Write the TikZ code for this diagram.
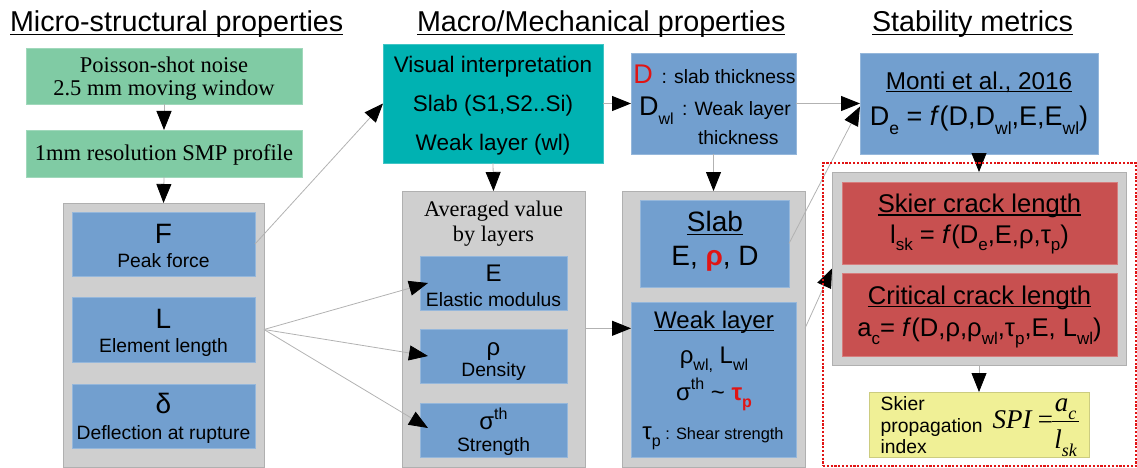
\documentclass[tikz,border=0pt]{standalone}
\usepackage{fontspec}
\setmainfont{Liberation Sans}
\newfontfamily\seriffam{Liberation Serif}
\usetikzlibrary{arrows.meta}

\definecolor{boxgreen}{RGB}{128,203,164}
\definecolor{boxteal}{RGB}{0,178,178}
\definecolor{boxblue}{RGB}{114,159,207}
\definecolor{boxgray}{RGB}{207,207,207}
\definecolor{boxred}{RGB}{200,80,80}
\definecolor{boxyellow}{RGB}{240,240,150}
\definecolor{hotred}{RGB}{225,20,20}
\definecolor{linkgray}{RGB}{178,178,178}

% font size helper, sub/superscripts and a flat underline
\newcommand\fsz[1]{\fontsize{#1}{#1}\selectfont}
\newcommand\subx[2]{\raisebox{-0.3em}{\fsz{#1}#2}}
\newcommand\supx[2]{\raisebox{0.42em}{\fsz{#1}#2}}
\newcommand\myul[1]{\leavevmode\setbox0\hbox{#1}\rlap{\rule[-0.12em]{\wd0}{0.05em}}\box0}

\tikzset{
  x=1pt, y=-1pt,
  panel/.style={anchor=north west, inner sep=0pt, outer sep=0pt, line width=0.6pt},
  greenbox/.style={panel, fill=boxgreen, draw=boxgreen!75!white},
  tealbox/.style={panel, fill=boxteal, draw=boxteal!75!white},
  bluebox/.style={panel, fill=boxblue, draw=boxblue!75!white},
  graybox/.style={panel, fill=boxgray, draw=boxgray!85!black},
  redbox/.style={panel, fill=boxred, draw=boxred!75!white},
  yellowbox/.style={panel, fill=boxyellow, draw=boxyellow!85!black},
  txt/.style={inner sep=0pt, outer sep=0pt, anchor=base, text=black},
  txtl/.style={txt, anchor=base west},
  title/.style={txtl, font=\fsz{28.7}},
  serifline/.style={txt, font={\seriffam\fsz{22.5}}},
  sym/.style={txt, font=\fsz{28}},
  lab/.style={txt, font=\fsz{19.3}},
  link/.style={draw=linkgray, line width=0.8pt,
    -{Triangle[length=19pt,width=15pt,color=black,fill=black]}},
  dotframe/.style={panel, draw=hotred, line width=1.2pt,
    dash pattern=on 2.2pt off 1.6pt},
}

\begin{document}
\begin{tikzpicture}
\useasboundingbox (0,0) rectangle (1137,468);

% column headings
\node[title] (t1) at (10,31.7) {\myul{Micro-structural properties}};
\node[title] (t2) at (417,31.7) {\myul{Macro/Mechanical properties}};
\node[title] (t3) at (872,31.7) {\myul{Stability metrics}};

% ---- micro-structural column
\node[greenbox, minimum width=276, minimum height=56] (g1) at (26,48) {};
\node[serifline] (g1a) at (164,72.7) {Poisson-shot noise};
\node[serifline] (g1b) at (164,96) {2.5 mm moving window};
\node[greenbox, minimum width=276, minimum height=47] (g2) at (26,130) {};
\node[serifline] (g2a) at (164,160.7) {1mm resolution SMP profile};

\node[graybox, minimum width=201, minimum height=264] (gl) at (63,203) {};
\node[bluebox, minimum width=183, minimum height=64] (fb) at (72,212) {};
\node[sym] (fs) at (163.5,243.3) {F};
\node[lab] (fl) at (163.5,267.3) {Peak force};
\node[bluebox, minimum width=183, minimum height=65] (lb) at (72,297) {};
\node[sym] (ls) at (163.5,328.3) {L};
\node[lab] (ll) at (163.5,352.7) {Element length};
\node[bluebox, minimum width=183, minimum height=64] (db) at (72,384) {};
\node[sym] (ds) at (163.5,413) {δ};
\node[lab] (dl) at (163.5,439.3) {Deflection at rupture};

% ---- macro / mechanical column
\node[tealbox, minimum width=220, minimum height=119] (vi) at (383,44) {};
\node[txt, font=\fsz{22.5}] (via) at (493,73) {Visual interpretation};
\node[txt, font=\fsz{22.5}] (vib) at (493,112) {Slab (S1,S2..Si)};
\node[txt, font=\fsz{22.5}] (vic) at (493,150) {Weak layer (wl)};

\node[bluebox, minimum width=165, minimum height=101] (dbox) at (631,53) {};
\node[txtl, font=\fsz{27}, text=hotred] (dred) at (633.3,83.3) {D};
\node[txtl, font=\fsz{19.3}] (dslab) at (661.7,83.3) {: slab thickness};
\node[txtl, font=\fsz{27}] (dwl) at (639,116) {D\subx{16}{wl}};
\node[txtl, font=\fsz{19.3}] (dwlt) at (682,116) {: Weak layer};
\node[txtl, font=\fsz{19.3}] (dthk) at (698,145) {thickness};

\node[graybox, minimum width=183, minimum height=276] (gm) at (402,191) {};
\node[txt, font={\seriffam\fsz{22.3}}] (gma) at (493.5,216.7) {Averaged value};
\node[txt, font={\seriffam\fsz{22.3}}] (gmb) at (493.5,241.7) {by layers};
\node[bluebox, minimum width=147, minimum height=54] (eb) at (420,256) {};
\node[txt, font=\fsz{24}] (es) at (493.5,281.7) {E};
\node[lab] (el) at (493.5,306) {Elastic modulus};
\node[bluebox, minimum width=147, minimum height=54] (rb) at (420,329) {};
\node[txt, font=\fsz{24}] (rs) at (493.5,355) {ρ};
\node[lab] (rl) at (493.5,376.7) {Density};
\node[bluebox, minimum width=147, minimum height=54] (sb) at (420,403) {};
\node[txt, font=\fsz{24}] (ss) at (493.5,429.3) {σ\supx{16}{th}};
\node[lab] (sl) at (493.5,451.7) {Strength};

\node[graybox, minimum width=183, minimum height=276] (gr) at (622,191) {};
\node[bluebox, minimum width=149, minimum height=87] (slb) at (640,200) {};
\node[txt, font=\fsz{28}] (slt) at (715,231.7) {\myul{Slab}};
\node[txt, font=\fsz{28}] (slv) at (715,265) {E, {\bfseries\color{hotred}ρ}, D};
\node[bluebox, minimum width=165, minimum height=155] (wlb) at (631,302) {};
\node[txt, font=\fsz{24}] (wlt) at (714,328.3) {\myul{Weak layer}};
\node[txt, font=\fsz{24}] (wlr) at (714,363.3) {ρ\subx{16}{wl,} L\subx{16}{wl}};
\node[txt, font=\fsz{24}] (wls) at (714,400)
  {σ\supx{16}{th} \textasciitilde{} {\bfseries\color{hotred}τ\subx{16}{p}}};
\node[txt, font=\fsz{24}] (wlp) at (713,439.3) {τ\subx{16}{p}{\fsz{16.4} : Shear strength}};

% ---- stability metrics column
\node[bluebox, minimum width=238, minimum height=101] (mb) at (860,53) {};
\node[txt, font=\fsz{24.3}] (mbt) at (979,89.3) {\myul{Monti et al., 2016}};
\node[txt, font=\fsz{27}] (mbf) at (979,126)
  {D\subx{17.5}{e} = \textit{f}(D,D\subx{17.5}{wl},E,E\subx{17.5}{wl})};

\node[graybox, minimum width=294, minimum height=193] (gs) at (832,172) {};
\node[redbox, minimum width=275, minimum height=82] (skb) at (842,182) {};
\node[txt, font=\fsz{25.6}] (skt) at (979.5,212.7) {\myul{Skier crack length}};
\node[txt, font=\fsz{25.6}] (skf) at (979.5,243.3)
  {l\subx{17}{sk} = \textit{f}(D\subx{17}{e},E,ρ,τ\subx{17}{p})};
\node[redbox, minimum width=275, minimum height=83] (ccb) at (842,273) {};
\node[txt, font=\fsz{25.6}] (cct) at (979.5,304) {\myul{Critical crack length}};
\node[txt, font=\fsz{25.6}] (ccf) at (979.5,336.7)
  {a\subx{17}{c}= \textit{f}(D,ρ,ρ\subx{17}{wl},τ\subx{17}{p},E, L\subx{17}{wl})};

\node[yellowbox, minimum width=220, minimum height=65] (yb) at (869,392) {};
\node[txtl, font=\fsz{19.3}] (y1) at (880.7,410.5) {Skier};
\node[txtl, font=\fsz{19.3}] (y2) at (880.7,432) {propagation};
\node[txtl, font=\fsz{19.3}] (y3) at (880.7,453) {index};
\node[txtl, font={\seriffam\itshape\fsz{27}}] (spi) at (992.7,428) {SPI\,=};
\node[txt, font={\seriffam\itshape\fsz{27}}] (num) at (1065.5,411.7) {a\subx{18}{c}};
\node[txt, font={\seriffam\itshape\fsz{27}}] (den) at (1065.5,448) {l\subx{18}{sk}};
\draw[line width=0.9pt] (1052,421.7) -- (1079,421.7);

% ---- connectors
\draw[link] (g1.south) -- (g2.north);
\draw[link] (g2.south) -- (gl.north);
\draw[link] (fb.east) -- (vi.west);
\coordinate (lout) at (gl.east |- lb.east);
\draw[link] (lout) -- ([xshift=8pt]eb.west);
\draw[link] (lout) -- ([xshift=8pt]rb.west);
\draw[link] (lout) -- ([xshift=8pt,yshift=2pt]sb.west);
\draw[link] (vi.east) -- (dbox.west);
\draw[link] (dbox.east) -- (mb.west);
\draw[link] (vi.south) -- (gm.north);
\draw[link] (dbox.south) -- (gr.north);
\draw[link] (slb.east) -- ([yshift=-3pt]mb.west);
\coordinate (gmout) at (gm.east |- wlt.base);
\draw[link] (gmout) -- (wlb.west |- gmout);
\coordinate (grout) at (gr.east |- wlt.base);
\draw[link] (grout) -- (gs.west);
\draw[link] (mb.south) -- (gs.north);
\draw[link] (gs.south) -- (yb.north);

% group outline around the stability metrics
\node[dotframe, minimum width=313, minimum height=303] (frame) at (823,163) {};
\end{tikzpicture}
\end{document}
